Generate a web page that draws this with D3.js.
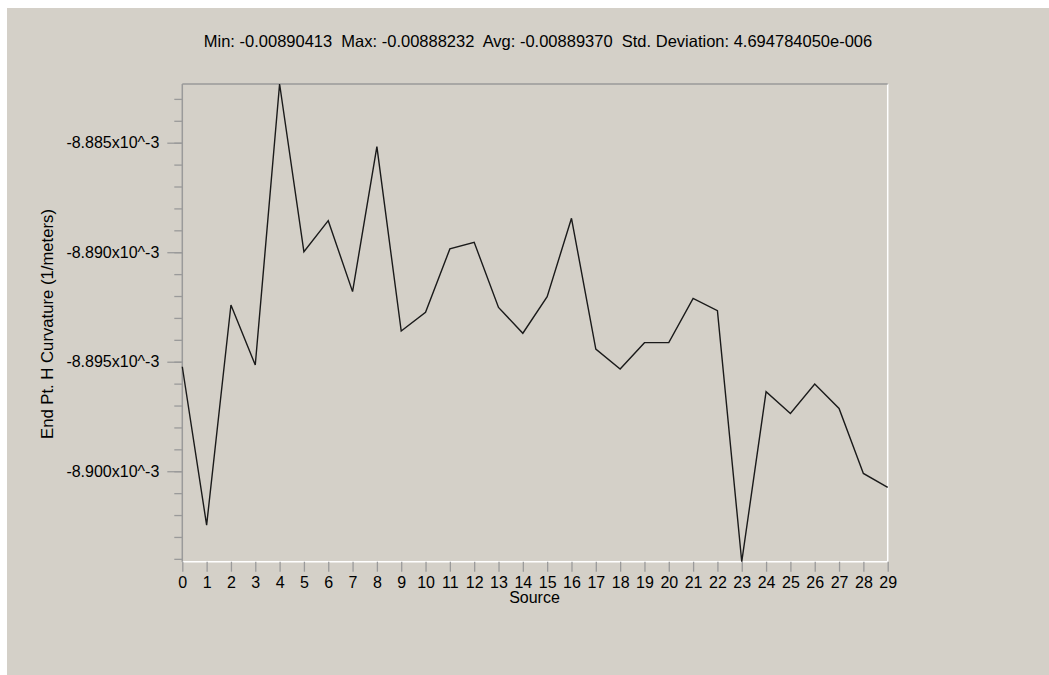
<!DOCTYPE html>
<html>
<head>
<meta charset="utf-8">
<script src="https://cdn.jsdelivr.net/npm/d3@7"></script>
<style>
  body { margin: 0; background: #ffffff; }
  svg { display: block; font-family: "Liberation Sans", Arial, sans-serif; }
</style>
</head>
<body>
<div id="chart"></div>
<script>
// Summary statistics shown in the title
const statMin = -0.00890413;
const statMax = -0.00888232;
const statAvg = -0.00889370;
const statStd = "4.694784050e-006";

// Source index along the x axis
const sources = d3.range(0, 30);

// End Pt. H Curvature per source (1/meters)
const curvature = [
    -0.00889523, -0.00890246, -0.00889241, -0.00889515, -0.00888232,
    -0.00888998, -0.00888856, -0.00889180, -0.00888518, -0.00889360,
    -0.00889274, -0.00888985, -0.00888955, -0.00889252, -0.00889370,
    -0.00889203, -0.00888845, -0.00889442, -0.00889533, -0.00889413,
    -0.00889413, -0.00889211, -0.00889267, -0.00890413, -0.00889637,
    -0.00889736, -0.00889602, -0.00889713, -0.00890010, -0.00890074
];

// Y axis ticks
const yMajorTicks = [-0.008885, -0.008890, -0.008895, -0.008900];
const yTickLabels = ["-8.885x10^-3", "-8.890x10^-3", "-8.895x10^-3", "-8.900x10^-3"];
const yMinorTicks = d3.range(-8904, -8882).map(v => v * 1e-6);

const xLabel = "Source";
const yLabel = "End Pt. H Curvature (1/meters)";

const W = 1049, H = 675;
const margin = { top: 84, right: 162, bottom: 114, left: 182 };
const width = W - margin.left - margin.right;
const height = H - margin.top - margin.bottom;

const svg = d3.select('#chart')
    .append('svg')
    .attr('width', W)
    .attr('height', H);

// Panel background
svg.append('rect')
    .attr('x', 7)
    .attr('y', 8)
    .attr('width', W - 7)
    .attr('height', H - 8)
    .attr('fill', '#d4d0c8');

// Title
svg.append('text')
    .attr('x', 538)
    .attr('y', 47)
    .attr('text-anchor', 'middle')
    .style('font-size', '16.5px')
    .style('fill', '#000')
    .style('white-space', 'pre')
    .text(`Min: ${statMin.toFixed(8)}  Max: ${statMax.toFixed(8)}  Avg: ${statAvg.toFixed(8)}  Std. Deviation: ${statStd}`);

const g = svg.append('g')
    .attr('transform', `translate(${margin.left},${margin.top})`);

const x = d3.scaleLinear()
    .domain([0, 29])
    .range([0.3, width + 0.7]);

const y = d3.scaleLinear()
    .domain([statMin, statMax])
    .range([height + 0.7, 0]);

// Plot frame: grey top/left, white bottom/right
g.append('line')
    .attr('x1', x(29)).attr('x2', x(29))
    .attr('y1', 0).attr('y2', y(statMin))
    .attr('stroke', '#ffffff').attr('stroke-width', 1.5);
g.append('line')
    .attr('x1', x(0)).attr('x2', x(29))
    .attr('y1', y(statMin)).attr('y2', y(statMin))
    .attr('stroke', '#ffffff').attr('stroke-width', 1.5);
g.append('line')
    .attr('x1', x(0)).attr('x2', x(29))
    .attr('y1', 0).attr('y2', 0)
    .attr('stroke', '#9a9a9a').attr('stroke-width', 1.5);
g.append('line')
    .attr('x1', x(0)).attr('x2', x(0))
    .attr('y1', 0).attr('y2', y(statMin))
    .attr('stroke', '#9a9a9a').attr('stroke-width', 1.5);

// Minor y ticks
const yMinor = g.append('g')
    .attr('transform', `translate(${x(0)},0)`)
    .call(d3.axisLeft(y)
        .tickValues(yMinorTicks)
        .tickSize(8)
        .tickFormat(''));
yMinor.select('.domain').remove();
yMinor.selectAll('line').attr('stroke', '#9a9a9a').attr('stroke-width', 1.3);

// Major y ticks
const yAxis = g.append('g')
    .attr('transform', `translate(${x(0)},0)`)
    .call(d3.axisLeft(y)
        .tickValues(yMajorTicks)
        .tickSize(15)
        .tickPadding(8)
        .tickFormat((d, i) => yTickLabels[i]));
yAxis.select('.domain').remove();
yAxis.selectAll('line').attr('stroke', '#9a9a9a').attr('stroke-width', 1.3);
yAxis.selectAll('text')
    .style('font-size', '16px')
    .style('font-family', '"Liberation Sans", Arial, sans-serif')
    .style('fill', '#000');

// X axis
const xAxis = g.append('g')
    .attr('transform', `translate(0,${y(statMin)})`)
    .call(d3.axisBottom(x)
        .tickValues(sources)
        .tickSize(10)
        .tickPadding(4.5)
        .tickFormat(d3.format('d')));
xAxis.select('.domain').remove();
xAxis.selectAll('line').attr('stroke', '#9a9a9a').attr('stroke-width', 1.3);
xAxis.selectAll('text')
    .style('font-size', '16px')
    .style('font-family', '"Liberation Sans", Arial, sans-serif')
    .style('fill', '#000');

// Axis titles
g.append('text')
    .attr('x', width / 2)
    .attr('y', 603 - margin.top)
    .attr('text-anchor', 'middle')
    .style('font-size', '16px')
    .style('fill', '#000')
    .text(xLabel);

g.append('text')
    .attr('transform', `translate(${53 - margin.left},${324 - margin.top}) rotate(-90)`)
    .attr('text-anchor', 'middle')
    .style('font-size', '16.7px')
    .style('fill', '#000')
    .text(yLabel);

// Data line
const line = d3.line()
    .x((d, i) => x(sources[i]))
    .y(d => y(d));

g.append('path')
    .datum(curvature)
    .attr('fill', 'none')
    .attr('stroke', '#1a1a1a')
    .attr('stroke-width', 1.4)
    .attr('d', line);
</script>
</body>
</html>
